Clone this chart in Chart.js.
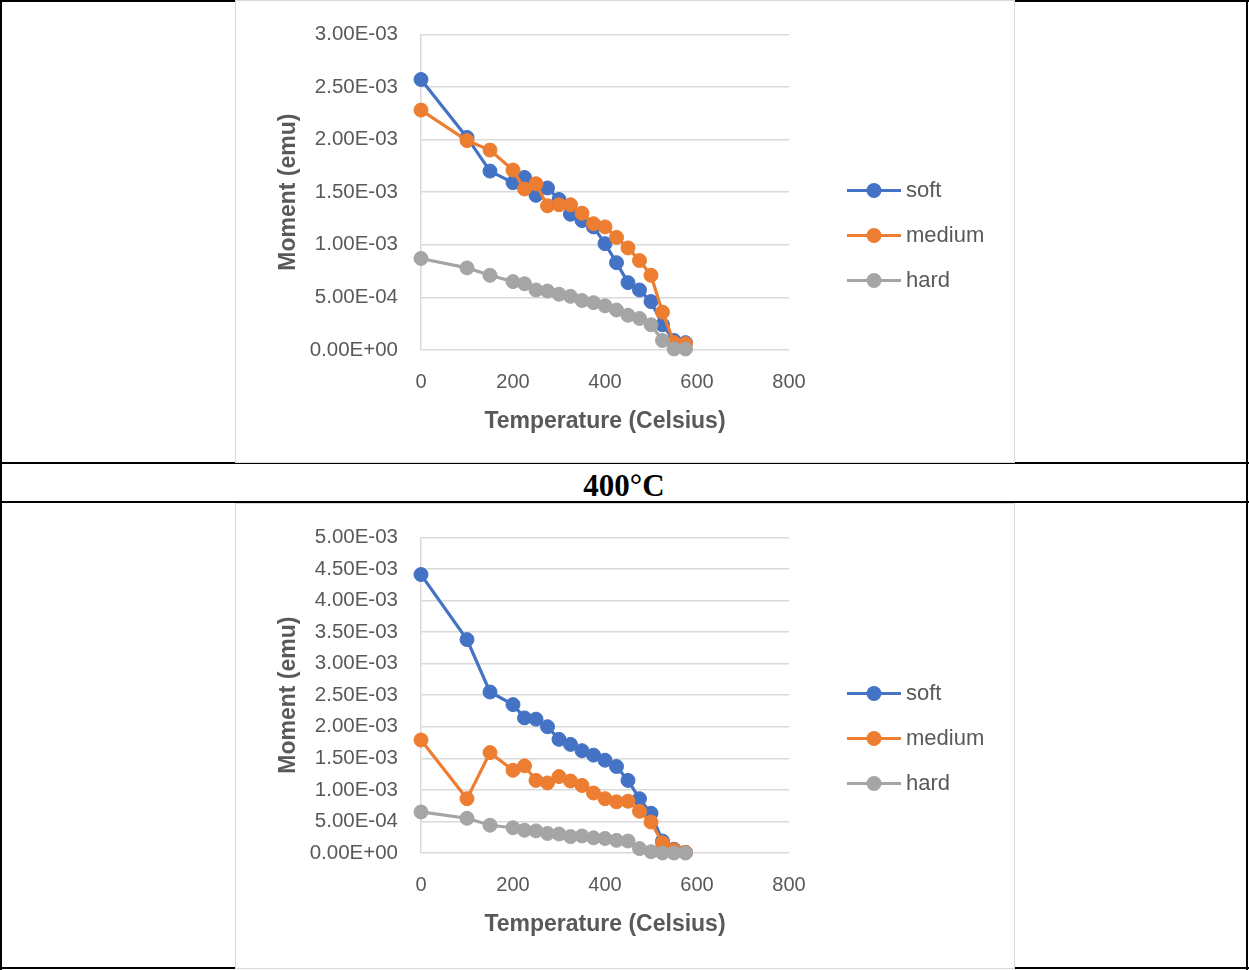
<!DOCTYPE html>
<html>
<head>
<meta charset="utf-8">
<script src="https://cdn.jsdelivr.net/npm/chart.js@4.4.1/dist/chart.umd.min.js"></script>
<style>
  html, body { margin: 0; padding: 0; background: #fff; }
  #page { position: relative; width: 1249px; height: 970px; overflow: hidden; }
  .rule { position: absolute; background: #000; }
  .box { position: absolute; left: 235px; width: 780px; box-sizing: border-box; border: 1px solid #d9d9d9; background: #fff; }
  .plot { position: absolute; left: 235px; width: 780px; height: 467px; }
  #caption { position: absolute; left: 2px; width: 1244px; top: 468px; height: 32px; line-height: 32px;
             text-align: center; font: bold 31px "Liberation Serif", "DejaVu Serif", serif; color: #000; }
</style>
</head>
<body>
<div id="page">
  <!-- table rules -->
  <div class="rule" style="left:0;top:0;width:1249px;height:2px"></div>
  <div class="rule" style="left:0;top:0;width:2px;height:970px"></div>
  <div class="rule" style="left:1246px;top:0;width:2px;height:970px"></div>
  <div class="rule" style="left:0;top:462px;width:1249px;height:2px"></div>
  <div class="rule" style="left:0;top:501px;width:1249px;height:2px"></div>
  <div class="rule" style="left:0;top:967px;width:1249px;height:2px"></div>

  <div class="box" style="top:0;height:463px"></div>
  <div class="box" style="top:503px;height:466px"></div>

  <div id="caption">400°C</div>

  <canvas id="chartTop" class="plot" width="780" height="467" style="top:-1px"></canvas>
  <canvas id="chartBottom" class="plot" width="780" height="467" style="top:502px"></canvas>
</div>

<script>
// temperatures (Celsius), shared by every series
const temps = [0, 100, 150, 200, 225, 250, 275, 300, 325, 350, 375, 400, 425, 450, 475, 500, 525, 550, 575];

// first chart, moment in emu
const softTop   = [2.57e-3, 2.02e-3, 1.70e-3, 1.59e-3, 1.64e-3, 1.47e-3, 1.54e-3, 1.43e-3, 1.29e-3, 1.23e-3,
                   1.17e-3, 1.01e-3, 0.83e-3, 0.64e-3, 0.57e-3, 0.46e-3, 0.24e-3, 0.09e-3, 0.07e-3];
const mediumTop = [2.28e-3, 1.99e-3, 1.90e-3, 1.71e-3, 1.53e-3, 1.58e-3, 1.37e-3, 1.38e-3, 1.38e-3, 1.30e-3,
                   1.20e-3, 1.17e-3, 1.07e-3, 0.97e-3, 0.85e-3, 0.71e-3, 0.36e-3, 0.07e-3, 0.06e-3];
const hardTop   = [0.87e-3, 0.78e-3, 0.71e-3, 0.65e-3, 0.63e-3, 0.57e-3, 0.56e-3, 0.53e-3, 0.51e-3, 0.47e-3,
                   0.45e-3, 0.42e-3, 0.38e-3, 0.33e-3, 0.30e-3, 0.24e-3, 0.09e-3, 0.01e-3, 0.01e-3];

// second chart (400°C), moment in emu
const softBottom   = [4.41e-3, 3.38e-3, 2.55e-3, 2.35e-3, 2.14e-3, 2.12e-3, 2.00e-3, 1.80e-3, 1.72e-3, 1.62e-3,
                      1.55e-3, 1.47e-3, 1.37e-3, 1.15e-3, 0.86e-3, 0.63e-3, 0.19e-3, 0.06e-3, 0.01e-3];
const mediumBottom = [1.79e-3, 0.86e-3, 1.59e-3, 1.31e-3, 1.38e-3, 1.15e-3, 1.11e-3, 1.21e-3, 1.14e-3, 1.07e-3,
                      0.95e-3, 0.86e-3, 0.81e-3, 0.82e-3, 0.66e-3, 0.49e-3, 0.16e-3, 0.05e-3, 0.01e-3];
const hardBottom   = [0.65e-3, 0.55e-3, 0.44e-3, 0.40e-3, 0.36e-3, 0.35e-3, 0.31e-3, 0.30e-3, 0.26e-3, 0.27e-3,
                      0.24e-3, 0.23e-3, 0.20e-3, 0.19e-3, 0.07e-3, 0.02e-3, 0.00, 0.00, 0.00];

const seriesNames  = ['soft', 'medium', 'hard'];
const seriesColors = ['#4472C4', '#ED7D31', '#A5A5A5'];

const xMin = 0, xMax = 800, xStep = 200;
const yStep = 5e-4;
const yMaxTop = 3e-3, yMaxBottom = 5e-3;

const textColor = '#595959';
const gridColor = '#d9d9d9';

Chart.defaults.font.family = '"Liberation Sans", Arial, sans-serif';

// 3.00E-03 style labels
function sci(v) {
  const [m, e] = Number(v).toExponential(2).split('e');
  const n = Math.abs(parseInt(e, 10));
  return m + 'E' + (e[0] === '-' ? '-' : '+') + String(n).padStart(2, '0');
}

// legend drawn as line + marker, like the spreadsheet one
const lineLegend = {
  id: 'lineLegend',
  afterDraw(chart) {
    const ctx = chart.ctx;
    const mid = chart.height / 2 + 3;
    ctx.save();
    chart.data.datasets.forEach((ds, i) => {
      const y = mid + (i - 1) * 45;
      ctx.strokeStyle = ds.borderColor;
      ctx.lineWidth = 3;
      ctx.beginPath();
      ctx.moveTo(612, y);
      ctx.lineTo(666, y);
      ctx.stroke();
      ctx.fillStyle = ds.borderColor;
      ctx.beginPath();
      ctx.arc(639, y, 7.5, 0, Math.PI * 2);
      ctx.fill();
      ctx.fillStyle = textColor;
      ctx.font = '22px "Liberation Sans", Arial, sans-serif';
      ctx.textBaseline = 'middle';
      ctx.textAlign = 'left';
      ctx.fillText(ds.label, 671, y);
    });
    ctx.restore();
  }
};

function makeChart(id, series, yMax) {
  return new Chart(document.getElementById(id), {
    type: 'line',
    data: {
      datasets: series.map((vals, i) => ({
        label: seriesNames[i],
        data: temps.map((t, k) => ({ x: t, y: vals[k] })),
        borderColor: seriesColors[i],
        backgroundColor: seriesColors[i],
        borderWidth: 3.2,
        pointRadius: 7,
        pointBorderWidth: 1,
        pointHoverRadius: 7,
        tension: 0,
        clip: false,
        order: 2 - i
      }))
    },
    options: {
      responsive: false,
      animation: false,
      events: [],
      layout: { padding: { top: 33, right: 226, bottom: 0, left: 0 } },
      plugins: { legend: { display: false }, tooltip: { enabled: false } },
      scales: {
        x: {
          type: 'linear',
          min: xMin, max: xMax,
          ticks: { stepSize: xStep, color: textColor, font: { size: 20 }, padding: 12, maxRotation: 0 },
          grid: { display: false },
          border: { display: false },
          title: {
            display: true, text: 'Temperature (Celsius)', color: textColor,
            font: { size: 23, weight: 'bold' }, padding: { top: 0, bottom: 31 }
          },
          afterFit: s => { s.height = 116; }
        },
        y: {
          type: 'linear',
          min: 0, max: yMax,
          ticks: { stepSize: yStep, color: textColor, font: { size: 20.5 }, padding: 23, callback: sci },
          grid: { color: gridColor, drawTicks: false, lineWidth: 1.5 },
          border: { color: gridColor, width: 1.5 },
          title: {
            display: true, text: 'Moment (emu)', color: textColor,
            font: { size: 23, weight: 'bold' }, padding: { top: 40, bottom: 0 }
          },
          afterFit: s => { s.width = 186; }
        }
      }
    },
    plugins: [lineLegend]
  });
}

makeChart('chartTop', [softTop, mediumTop, hardTop], yMaxTop);
makeChart('chartBottom', [softBottom, mediumBottom, hardBottom], yMaxBottom);
</script>
</body>
</html>
